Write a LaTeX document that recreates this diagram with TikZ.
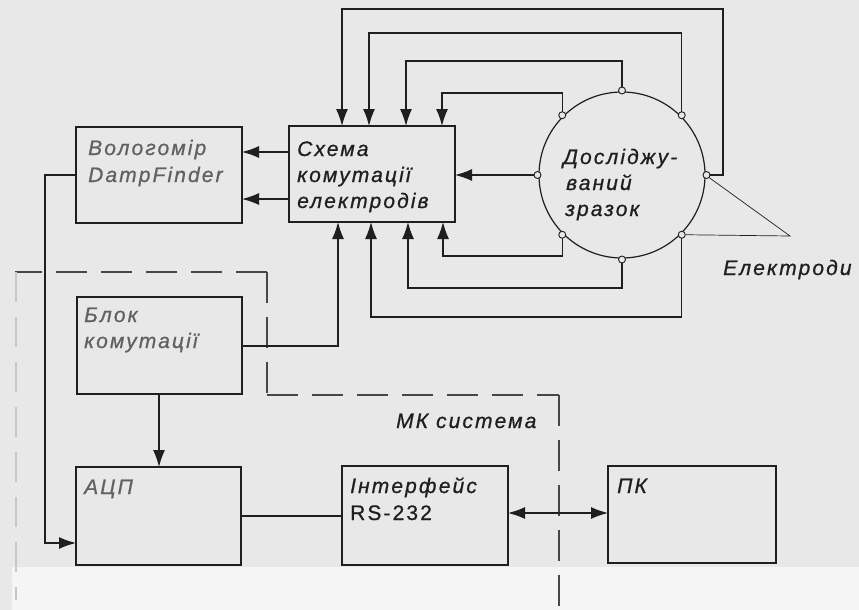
\documentclass[tikz,border=0pt]{standalone}
\usepackage{fontspec}
\setmainfont{Liberation Sans}
\newfontfamily\lab{Liberation Sans}[LetterSpace=10,FakeBold=0.8]
\usetikzlibrary{arrows.meta,calc}
\definecolor{bgc}{gray}{0.91}
\definecolor{bgl}{gray}{0.96}
\definecolor{ink}{gray}{0.12}
\definecolor{faded}{gray}{0.38}
\tikzset{
  box/.style={draw=ink,line width=1.3pt,rectangle,inner sep=0pt,outer sep=0pt,anchor=north west},
  wire/.style={draw=ink,line width=1.3pt},
  arr/.style={wire,-{Latex[length=17pt,width=12pt]}},
  darr/.style={wire,{Latex[length=17pt,width=12pt]}-{Latex[length=17pt,width=12pt]}},
  elec/.style={circle,draw=ink,fill=bgc,line width=0.9pt,minimum size=7pt,inner sep=0pt,outer sep=0pt},
  lbl/.style={inner sep=0pt,anchor=base west,text=ink,font=\lab\itshape\fontsize{21}{25}\selectfont},
  flbl/.style={lbl,text=faded},
  mk/.style={draw=black!72,line width=1.1pt,dash pattern=on 31pt off 14pt},
  thinline/.style={draw=ink,line width=0.7pt}
}
\begin{document}
\begin{tikzpicture}[x=1pt,y=-1pt]
\fill[bgc] (0,0) rectangle (859,610);
\fill[bgl] (12,567) rectangle (859,610);
\useasboundingbox (0,0) rectangle (859,610);

% boxes
\node[box,minimum width=166pt,minimum height=96pt] (vol) at (76,127) {};
\node[box,minimum width=166pt,minimum height=96pt] (sch) at (289,126) {};
\node[box,minimum width=165pt,minimum height=97pt] (blk) at (77,297) {};
\node[box,minimum width=165pt,minimum height=98pt] (adc) at (76,467) {};
\node[box,minimum width=166pt,minimum height=99pt] (rs) at (342,466) {};
\node[box,minimum width=168pt,minimum height=97pt] (pc) at (608,466) {};

% sample
\node[circle,draw=ink,line width=1.2pt,minimum size=166pt,inner sep=0pt] (smp) at (622,175) {};
\foreach \a in {0,45,...,315}
  \node[elec] (e\a) at ($(smp.center)+(\a:84.5pt)$) {};

% MK system boundary
\draw[mk] (267,272) -- (15,272);
\draw[mk] (267,272) -- (267,395);
\draw[mk] (267,395) -- (559,395);
\draw[mk] (559,395) -- (559,610);
\draw[draw=black!22,line width=2.2pt,dash pattern=on 30pt off 15pt] (16,272) -- (16,600);

% electrode wires to the switching scheme (top)
\draw[arr] (e0.east) -- ++(13,0) |- (342,9) -- (sch.north -| 342,0);
\draw[arr] (e45.north) |- (369,33) -- (sch.north -| 369,0);
\draw[arr] (e90.north) |- (406,61) -- (sch.north -| 406,0);
\draw[arr] (e135.north) |- (442,93) -- (sch.north -| 442,0);
\draw[arr] (e180.west) -- (sch.east |- e180);
% bottom
\draw[arr] (e225.south) |- (443,256) -- (sch.south -| 443,0);
\draw[arr] (e270.south) |- (408,288) -- (sch.south -| 408,0);
\draw[arr] (e315.south) |- (371,317) -- (sch.south -| 371,0);
\draw[arr] (blk.east |- 0,346) -| (sch.south -| 338,0);

% scheme to moisture meter
\draw[arr] (sch.west |- 0,152) -- (vol.east |- 0,152);
\draw[arr] (sch.west |- 0,199) -- (vol.east |- 0,199);

% left loop
\draw[arr] (vol.west |- 0,175) -- (45,175) |- (adc.west |- 0,543);
\draw[arr] (blk.south -| 159,0) -- (adc.north -| 159,0);
\draw[wire] (adc.east |- 0,516) -- (rs.west |- 0,516);
\draw[darr] (rs.east |- 0,513) -- (pc.west |- 0,513);

% electrode pointer
\coordinate (apex) at (790,236);
\draw[thinline] (e0.south east) -- (apex) -- (e315.east);

% texts
\node[flbl] (tv1) at (88,155) {Вологомір};
\node[flbl] (tv2) at (88,182) {DampFinder};
\node[lbl] (ts1) at (297,156) {Схема};
\node[lbl] (ts2) at (297,182) {комутації};
\node[lbl] (ts3) at (297,208) {електродів};
\node[lbl] (tz1) at (563,164) {Досліджу-};
\node[lbl] (tz2) at (566,190) {ваний};
\node[lbl] (tz3) at (565,216) {зразок};
\node[lbl] (tel) at (723,275) {Електроди};
\node[flbl] (tb1) at (84,322) {Блок};
\node[flbl] (tb2) at (84,348) {комутації};
\node[lbl] (tmk) at (396,428) {МК система};
\node[flbl] (ta) at (84,494) {АЦП};
\node[lbl] (tr1) at (350,493) {Інтерфейс};
\node[lbl] (tr2) at (350,520) {\upshape RS-232};
\node[lbl] (tp) at (617,493) {ПК};
\end{tikzpicture}
\end{document}
